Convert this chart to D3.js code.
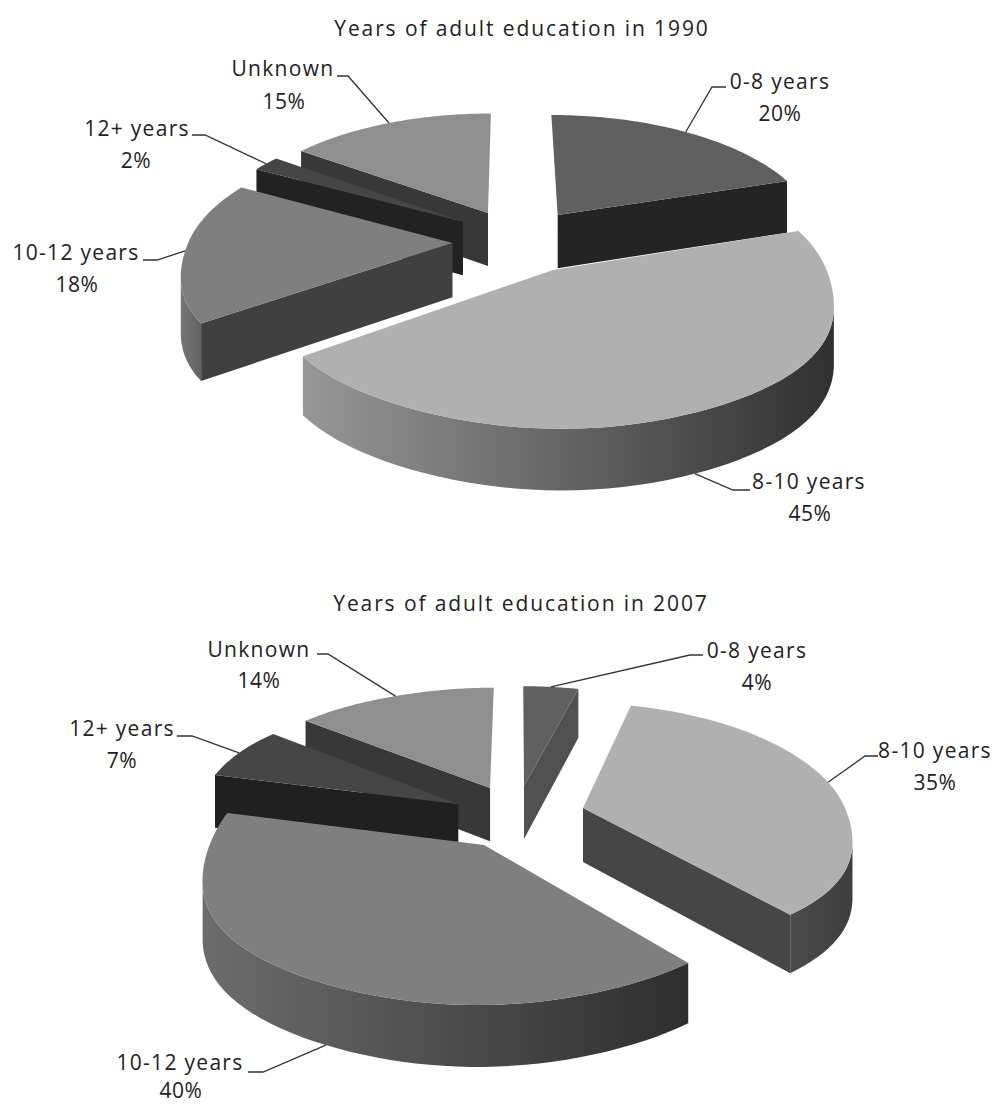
<!DOCTYPE html>
<html><head><meta charset="utf-8">
<script src="https://cdn.jsdelivr.net/npm/d3@7"></script>
<style>html,body{margin:0;padding:0;background:#fff}svg{display:block}
text{font-family:"Open Sans",sans-serif;fill:#222}</style></head>
<body><div id="chart"></div>
<script>
const categories = ["0-8 years","8-10 years","10-12 years","12+ years","Unknown"];
const values1990 = [20,45,18,2,15];
const values2007 = [4,35,40,7,14];
const titles = ["Years of adult education in 1990","Years of adult education in 2007"];

// projection shared by both pies
const Rx = 262, Ry = 262, K = 0.465, P = 0.0006, Px = 0.0006, H = 54, FRONT_BOOST = 0.045;
const topFills = ["#606060","#b0b0b0","#7f7f7f","#464646","#8f8f8f"];

const charts = [
 { values: values1990, title: titles[0], titleX: 522, titleY: 36,
   vx: 510, vy: 236, backLeft: 0,
   shift: [[49,46.4],[41.3,-70],[-57,-14.9],[-47.9,31],[-22.7,51]],
   order: [4,3,2,0,1],
   side: ["#242424","#464646","#404040","#222222","#383838"],
   outer: [["#555","#444"],["#979797","#303030"],["#767676","#626262"],["#444","#444"],["#666","#666"]],
   labels: [[780,89,712,87,14],[809,489,733,490,17],[76,260,157,260,-14],[137,136,205,135,-13],[283,76,348,76,-11]],
   pctY: [121,521,292,168,109], pctX:[780,810,77,136,284],
   attach: [0,3,0,0,0],
   lift: [0,1,0,0,0] },
 { values: values2007, title: titles[1], titleX: 521, titleY: 611,
   vx: 518, vy: 808, backLeft: 0.045,
   shift: [[6.2,48.7],[65,0],[-32.4,-75.9],[-60,8.7],[-28.7,44.2]],
   order: [0,4,3,2,1],
   side: ["#505050","#464646","#333333","#202020","#383838"],
   outer: [["#505050","#505050"],["#4a4a4a","#3e3e3e"],["#6c6c6c","#2e2e2e"],["#444","#444"],["#666","#666"]],
   labels: [[757,658,690,655,13],[935,758,865,756,13],[180,1070,263,1072,-15],[122,736,192,736,-15],[259,657,328,654,-11]],
   pctY: [690,790,1098,768,688], pctX:[757,935,181,122,259],
   attach: [0,0,-5,0,0],
   lift: [0,0,1,0,0] }
];

const svg = d3.select("#chart").append("svg").attr("width",992).attr("height",1104);
const defs = svg.append("defs");
const pie = d3.pie().sort(null);
const path = d3.line();

charts.forEach((c,ci)=>{
  const g = svg.append("g");
  const arcs = pie(c.values);
  const proj = (X,Y,z)=>{
    const f = 1/(1+P*Y), fx = 1/(1+Px*Y);
    return [c.vx + X*fx, c.vy - K*Y*f + z*H*Math.pow(f,0.6)];
  };
  const point = (i,a,r,z)=>{
    const s=Math.sin(a), co=Math.cos(a), s2=Math.sin(2*a);
    let boost = co<0 ? 1+FRONT_BOOST*s2*s2 : 1;
    if(co>0 && s<0) boost = 1+c.backLeft*s2*s2;
    return proj(c.shift[i][0]+r*Rx*s*boost, c.shift[i][1]+r*Ry*co, z);
  };
  const cross=(a,b,p)=>(b[0]-a[0])*(p[1]-a[1])-(b[1]-a[1])*(p[0]-a[0]);

  c.order.forEach(i=>{
    const d = arcs[i];
    const angles = d3.range(0,61).map(t=>d.startAngle+(d.endAngle-d.startAngle)*t/60);
    const A = point(i,0,0,0), mid=(d.startAngle+d.endAngle)/2, C=point(i,mid,1,0);
    // radial walls
    [d.startAngle,d.endAngle].forEach(a=>{
      if(Math.abs(Math.sin(a))<0.05) return;
      const B=point(i,a,1,0), dn=[A[0],A[1]+10];
      if(cross(A,B,C)*cross(A,B,dn)<0){
        g.append("path").attr("fill",c.side[i])
          .attr("d",path([A,B,point(i,a,1,1),point(i,0,0,1)])+"Z");
      }
    });
    // outer wall: the visible part of the rim
    const vis = angles.filter(a=>{
      const p=point(i,a,1,0), q=point(i,a+0.01,1,0);
      return cross(p,q,A)*cross(p,q,[p[0],p[1]+10])<0;
    });
    if(vis.length>1){
      const tops=vis.map(a=>point(i,a,1,0)), bots=vis.map(a=>point(i,a,1,1)).reverse();
      const xs=tops.concat(bots).map(p=>p[0]);
      const id=`w${ci}_${i}`;
      const gr=defs.append("linearGradient").attr("id",id).attr("gradientUnits","userSpaceOnUse")
        .attr("x1",d3.min(xs)).attr("x2",d3.max(xs)).attr("y1",0).attr("y2",0);
      gr.append("stop").attr("offset",0).attr("stop-color",c.outer[i][0]);
      gr.append("stop").attr("offset",1).attr("stop-color",c.outer[i][1]);
      g.append("path").attr("fill",`url(#${id})`).attr("d",path(tops.concat(bots))+"Z");
    }
    // top face
    g.append("path").attr("fill",topFills[i])
      .attr("d",path([A].concat(angles.map(a=>point(i,a,1,0))))+"Z");
  });

  // title
  g.append("text").attr("x",c.titleX).attr("y",c.titleY).attr("text-anchor","middle")
    .attr("font-size",21).attr("letter-spacing",1.9).text(c.title);

  // labels + leaders
  categories.forEach((name,i)=>{
    const l=c.labels[i], d=arcs[i], mid=(d.startAngle+d.endAngle)/2+c.attach[i]*Math.PI/180;
    const end=point(i,mid,1,c.lift[i]);
    g.append("path").attr("fill","none").attr("stroke","#333").attr("stroke-width",1.3)
      .attr("d",path([[l[2]+l[4],l[3]],[l[2],l[3]],end]));
    g.append("text").attr("x",l[0]).attr("y",l[1]).attr("text-anchor","middle").attr("font-size",21).attr("letter-spacing",1.3).text(name);
    g.append("text").attr("x",c.pctX[i]).attr("y",c.pctY[i]).attr("text-anchor","middle").attr("font-size",21).attr("letter-spacing",0.5).text(c.values[i]+"%");
  });
});
</script></body></html>
